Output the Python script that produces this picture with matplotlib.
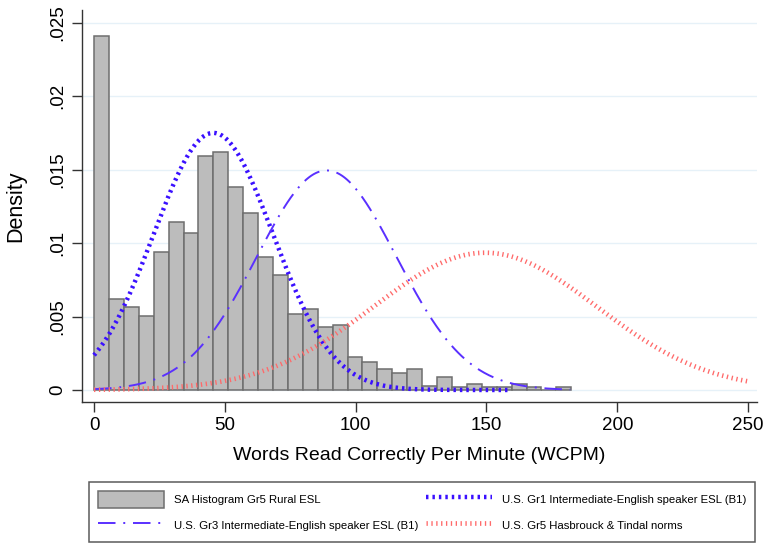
import numpy as np
import matplotlib
matplotlib.use("Agg")
import matplotlib.pyplot as plt

# Histogram of SA Gr5 rural ESL learners (density per bin)
bin_start = 0.0
bin_width = 5.7
hist_density = [0.0241, 0.00621, 0.00563, 0.00504, 0.00937, 0.01141, 0.01071, 0.01593,
                0.01622, 0.01384, 0.01207, 0.00903, 0.00783, 0.00517, 0.00549, 0.00431,
                0.00445, 0.00222, 0.00188, 0.00145, 0.00116, 0.00145, 0.00027, 0.00086,
                0.0002, 0.0004, 0.0002, 0.0002, 0.0004, 0.0002, 0.0, 0.0002]

# Normal reference curves: mean, sd, and the WCPM range each one is drawn over
norm_names = ["U.S. Gr1 Intermediate-English speaker ESL (B1)",
              "U.S. Gr3 Intermediate-English speaker ESL (B1)",
              "U.S. Gr5 Hasbrouck & Tindal norms"]
norm_means = [45.6, 88.9, 149.5]
norm_sds = [22.8, 26.7, 42.7]
norm_ranges = [(0, 159), (0, 182), (0, 250)]

x_ticks = [0, 50, 100, 150, 200, 250]
y_ticks = [0, 0.005, 0.01, 0.015, 0.02, 0.025]
y_ticklabels = ["0", ".005", ".01", ".015", ".02", ".025"]

plt.rcParams["font.family"] = ["Liberation Sans", "DejaVu Sans"]

fig = plt.figure(figsize=(7.65, 5.51), dpi=100)
ax = fig.add_axes([82 / 765, 149 / 551, 675 / 765, 392 / 551])

# Gridlines
for yt in y_ticks:
    ax.axhline(yt, color="#e6f1f8", lw=1, zorder=0)

# Histogram bars
lefts = bin_start + bin_width * np.arange(len(hist_density))
bars = ax.bar(lefts, hist_density, width=bin_width, align="edge",
              color="#bcbcbc", edgecolor="#6e6e6e", linewidth=1.1, zorder=2,
              label="SA Histogram Gr5 Rural ESL")

styles = [
    dict(color="#3a10ff", lw=3.2, linestyle=(0, (0.55, 0.9))),
    dict(color="#5a30ff", lw=1.4, linestyle=(0, (9, 4, 1, 4))),
    dict(color="#ff6a6a", lw=3.4, linestyle=(0, (0.28, 0.75))),
]

lines = []
for name, m, s, (lo, hi), st in zip(norm_names, norm_means, norm_sds, norm_ranges, styles):
    xs = np.linspace(lo, hi, 400)
    ys = np.exp(-0.5 * ((xs - m) / s) ** 2) / (s * np.sqrt(2 * np.pi))
    ln, = ax.plot(xs, ys, zorder=3, label=name, **st)
    lines.append(ln)

ax.set_xlim(-4.6, 253.4)
ax.set_ylim(-0.000817, 0.02586)
ax.set_xticks(x_ticks)
ax.set_yticks(y_ticks)
ax.set_yticklabels(y_ticklabels, rotation=90, va="center")
ax.tick_params(axis="both", labelsize=13.5, length=7, width=1, color="#333333", pad=4)

for side in ["top", "right"]:
    ax.spines[side].set_visible(False)
for side in ["left", "bottom"]:
    ax.spines[side].set_color("#333333")
    ax.spines[side].set_linewidth(1)

ax.set_xlabel("Words Read Correctly Per Minute (WCPM)", fontsize=14, labelpad=9)
ax.set_ylabel("Density", fontsize=15.5, labelpad=17)

handles = [bars, lines[1], lines[0], lines[2]]
labels = [h.get_label() for h in handles]
leg = fig.legend(handles, labels, loc="upper left", ncol=2,
                 bbox_to_anchor=(89 / 765, 1 - 482 / 551),
                 prop={"size": 8.2},
                 handlelength=5.8, handleheight=1.9, handletextpad=0.9,
                 columnspacing=0.6, borderpad=0.8, labelspacing=0.75,
                 fancybox=False, frameon=True, edgecolor="#333333",
                 borderaxespad=0)
leg.get_frame().set_linewidth(1.1)

fig.savefig("out.png", dpi=100)
